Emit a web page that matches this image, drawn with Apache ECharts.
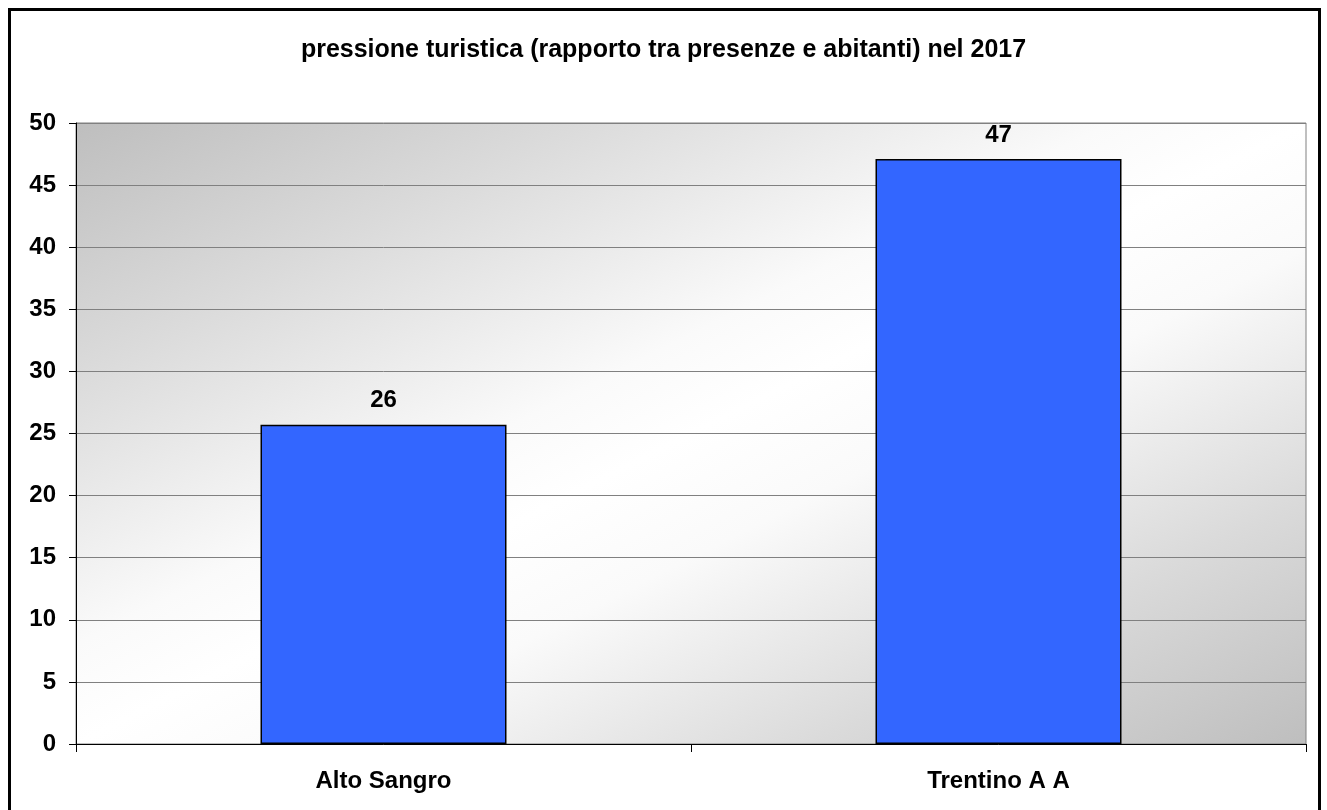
<!DOCTYPE html>
<html><head><meta charset="utf-8">
<script src="https://cdn.jsdelivr.net/npm/echarts@6/dist/echarts.min.js"></script>
<style>html,body{margin:0;padding:0;background:#fff}#c{width:1327px;height:810px}</style>
</head><body><div id="c"></div>
<script>
const titleText = 'pressione turistica (rapporto tra presenze e abitanti) nel 2017';
const categories = ['Alto Sangro', 'Trentino A A'];
const values = [25.7, 47.1];
const labels = ['26', '47'];
const yTicks = [0, 5, 10, 15, 20, 25, 30, 35, 40, 45, 50];

const chart = echarts.init(document.getElementById('c'), null, {renderer: 'canvas'});
const font = '"Liberation Sans", Arial, sans-serif';
chart.setOption({
  animation: false,
  backgroundColor: '#fff',
  title: {
    text: titleText, left: 'center', top: 33,
    textStyle: {fontFamily: font, fontWeight: 'bold', fontSize: 25, color: '#000'}
  },
  grid: {
    left: 76, right: 21, top: 123, bottom: 66, show: true,
    borderColor: '#808080', borderWidth: 1,
    backgroundColor: new echarts.graphic.LinearGradient(0, 0, 0.406, 1.594, [
      {offset: 0, color: '#bebebe'},
      {offset: 0.2, color: '#dadada'},
      {offset: 0.42, color: '#fafafa'},
      {offset: 0.5, color: '#ffffff'},
      {offset: 0.6, color: '#fafafa'},
      {offset: 0.8, color: '#dadada'},
      {offset: 1, color: '#bebebe'}
    ])
  },
  xAxis: {
    type: 'category', data: categories,
    axisLine: {lineStyle: {color: '#000', width: 1}},
    axisTick: {show: true, length: 8, lineStyle: {color: '#000'}},
    axisLabel: {fontFamily: font, fontWeight: 'bold', fontSize: 24, color: '#000', margin: 25}
  },
  yAxis: {
    type: 'value', min: yTicks[0], max: yTicks[yTicks.length - 1], interval: 5,
    axisLine: {show: true, lineStyle: {color: '#000'}},
    axisTick: {show: true, length: 7, lineStyle: {color: '#000'}},
    axisLabel: {fontFamily: font, fontWeight: 'bold', fontSize: 24, color: '#000', margin: 20},
    splitLine: {show: true, lineStyle: {color: '#808080', width: 1}}
  },
  series: [{
    type: 'bar', data: values, barWidth: '40%',
    itemStyle: {color: '#3366ff', borderColor: '#000', borderWidth: 1.5},
    label: {
      show: true, position: 'top', distance: 12,
      formatter: p => labels[p.dataIndex],
      fontFamily: font, fontWeight: 'bold', fontSize: 24, color: '#000'
    }
  }],
  graphic: [{
    type: 'rect', silent: true,
    shape: {x: 9.5, y: 9.5, width: 1310, height: 830},
    style: {fill: 'none', stroke: '#000', lineWidth: 3}
  }]
});
</script></body></html>
